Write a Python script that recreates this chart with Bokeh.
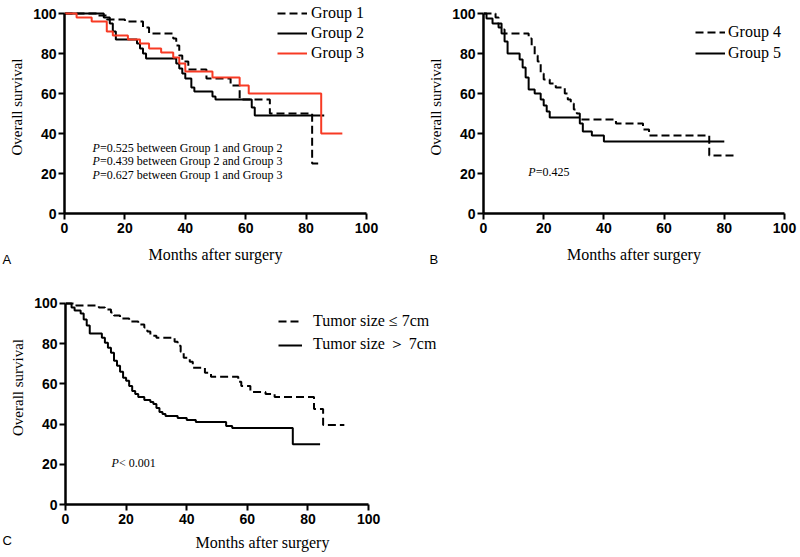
from bokeh.plotting import figure
from bokeh.models import Range1d, Legend, LegendItem, Label, FixedTicker, Title
from bokeh.layouts import column, row
from bokeh.embed import file_html
from bokeh.resources import INLINE

# ---------------- data ----------------
TICKS = [0, 20, 40, 60, 80, 100]

# Panel A
g1_months = [0, 11, 14, 20, 26, 28, 36, 37, 38, 39, 41, 47, 55, 58, 68, 82, 84]
g1_surv = [100, 99, 97, 96, 93, 90, 87.5, 84, 79, 76, 72, 67.5, 64, 57, 50, 25, 25]

g2_months = [0, 13, 15, 16, 17, 24, 25, 26, 27, 37, 38, 39, 40, 42, 43, 49, 50, 62, 63, 86]
g2_surv = [100, 98, 95, 91, 87, 85, 82.5, 80, 77.5, 75, 72.5, 70, 67.5, 63, 61, 58.5, 57, 53, 49, 49]

g3_months = [0, 4, 9, 14, 16, 21, 25, 28, 32, 36, 38, 40, 49, 58, 61, 85, 92]
g3_surv = [100, 98, 96, 91, 89, 87, 85, 82.5, 80.5, 78, 75, 71, 68, 64, 60, 40, 40]

# Panel B
g4_months = [0, 4, 5, 6, 7, 15, 16, 17, 18, 19, 20, 22, 24, 27, 28, 29, 30, 31, 32, 44, 53, 55, 75, 84]
g4_surv = [100, 98, 95, 92, 90, 87.5, 84, 79, 76, 70, 67, 65, 63, 60, 57, 55, 52, 50, 47, 45, 42, 39, 29, 29]

g5_months = [0, 1, 3, 5, 6, 7, 8, 12, 13, 14, 15, 17, 19, 20, 21, 22, 32, 33, 36, 40, 80]
g5_surv = [100, 97.5, 95, 93, 90, 86, 80, 77, 73, 68, 62, 60, 57, 54, 51, 48, 45, 41, 39, 36, 36]

# Panel C
le7_months = [0, 3, 11, 13, 15, 16, 18, 21, 24, 26, 27, 28, 30, 36, 37, 38, 39, 41, 42, 46, 48,
              57, 58, 61, 66, 69, 82, 85, 92]
le7_surv = [100, 99, 98, 97, 95.5, 94, 92.5, 91, 89.5, 88, 86, 84, 83, 81, 79, 76, 73, 71, 68, 65.5, 63.5,
            61, 59, 56, 55, 53.5, 47.5, 39.5, 39.5]

gt7_months = [0, 2, 3, 5, 6, 7, 8, 12, 13, 14, 15, 16, 17, 18, 19, 20, 21, 22, 23, 24, 26, 28, 29, 30,
              31, 32, 33, 37, 40, 43, 53, 55, 75, 84]
gt7_surv = [100, 98, 96.5, 95, 92, 89, 85, 83, 80.5, 78, 75.5, 71.5, 69, 66, 63, 61.5, 59, 56.5, 55,
            53.5, 52, 51, 50, 48, 46, 45, 44, 43, 42, 41, 39, 38, 30, 30]

SERIF = "Liberation Serif"
SANS = "Liberation Sans"
RED = "#f73a24"
DASH = "8 4"


def make_panel(width, height, left, right, top, bottom, x_end, y_end, xlab_standoff=10):
    p = figure(width=width, height=height, output_backend="svg", toolbar_location=None,
               x_range=Range1d(0, x_end), y_range=Range1d(0, y_end),
               min_border_left=left, min_border_right=right,
               min_border_top=top, min_border_bottom=bottom)
    p.grid.visible = False
    p.outline_line_color = None
    p.background_fill_color = "white"
    for ax in (p.xaxis[0], p.yaxis[0]):
        ax.bounds = (0, 100)
        ax.ticker = FixedTicker(ticks=TICKS)
        ax.axis_line_width = 2.5
        ax.axis_line_color = "black"
        ax.major_tick_line_width = 2
        ax.major_tick_line_color = "black"
        ax.major_tick_out = 6
        ax.major_tick_in = 0
        ax.minor_tick_line_color = None
        ax.major_label_text_font = SANS
        ax.major_label_text_font_style = "bold"
        ax.major_label_text_font_size = "14px"
        ax.major_label_text_color = "black"
        ax.axis_label_text_font = SERIF
        ax.axis_label_text_font_style = "normal"
        ax.axis_label_text_color = "black"
    p.xaxis.axis_label = "Months after surgery"
    p.xaxis.axis_label_text_font_size = "16px"
    p.xaxis.major_label_standoff = 3
    p.xaxis.axis_label_standoff = xlab_standoff
    p.yaxis.axis_label = "Overall survival"
    p.yaxis.axis_label_text_font_size = "15px"
    p.yaxis.major_label_standoff = 2
    p.yaxis.axis_label_standoff = 5
    return p


def add_legend(p, items, vx, vy, glyph_w, standoff, spacing):
    leg = Legend(items=items, location=(vx, vy), orientation="vertical",
                 glyph_width=glyph_w, glyph_height=16, label_height=16,
                 label_standoff=standoff, spacing=spacing, padding=0, margin=0,
                 border_line_color=None, background_fill_alpha=0,
                 label_text_font=SERIF, label_text_font_size="16px",
                 label_text_color="black")
    p.add_layout(leg)


def p_text(p, x, y, rest, off=7.5):
    p.add_layout(Label(x=x, y=y, text="P", text_font=SERIF, text_font_style="italic",
                       text_font_size="12px", text_baseline="middle", text_color="black"))
    p.add_layout(Label(x=x, y=y, x_offset=off, text=rest, text_font=SERIF,
                       text_font_size="12px", text_baseline="middle", text_color="black"))


def panel_letter(p, offset, letter, standoff=-28):
    p.add_layout(Title(text=letter, align="left", offset=offset, standoff=standoff,
                       vertical_align="top", text_font=SANS, text_font_size="13px",
                       text_font_style="normal", text_color="black"), "below")


# ---------------- Panel A ----------------
pA = make_panel(400, 270, 64, 34, 0, 57, 100, 106.5)
r1 = pA.step(g1_months, g1_surv, mode="after", line_width=2, line_color="black", line_dash=DASH)
r2 = pA.step(g2_months, g2_surv, mode="after", line_width=2, line_color="black")
r3 = pA.step(g3_months, g3_surv, mode="after", line_width=2, line_color=RED)
add_legend(pA, [LegendItem(label="Group 1", renderers=[r1]),
                LegendItem(label="Group 2", renderers=[r2]),
                LegendItem(label="Group 3", renderers=[r3])], 213, 151, 30, 4, 2)
p_text(pA, 9.3, 33, "=0.525 between Group 1 and Group 2")
p_text(pA, 9.3, 26.5, "=0.439 between Group 2 and Group 3")
p_text(pA, 9.3, 19.5, "=0.627 between Group 1 and Group 3")
panel_letter(pA, -62, "A")

# ---------------- Panel B ----------------
pB = make_panel(400, 270, 83, 16, 0, 57, 100, 106.5)
r4 = pB.step(g4_months, g4_surv, mode="after", line_width=2, line_color="black", line_dash=DASH)
r5 = pB.step(g5_months, g5_surv, mode="after", line_width=2, line_color="black")
add_legend(pB, [LegendItem(label="Group 4", renderers=[r4]),
                LegendItem(label="Group 5", renderers=[r5])], 212, 151, 30, 3, 3)
p_text(pB, 14.9, 21, "=0.425")
panel_letter(pB, -54, "B")

# ---------------- Panel C ----------------
pC = make_panel(480, 287, 65, 21, 0, 53, 130, 116.4, xlab_standoff=7)
r6 = pC.step(le7_months, le7_surv, mode="after", line_width=2, line_color="black", line_dash=DASH)
r7 = pC.step(gt7_months, gt7_surv, mode="after", line_width=2, line_color="black")
add_legend(pC, [LegendItem(label="Tumor size ≤ 7cm", renderers=[r6]),
                LegendItem(label="Tumor size ＞ 7cm", renderers=[r7])], 213, 149, 24, 11, 4)
p_text(pC, 15.2, 20.5, "< 0.001", off=7.5)
panel_letter(pC, -63, "C", standoff=-42)

layout = column(row(pA, pB), pC)
open("out.html", "w").write(file_html(layout, INLINE))
